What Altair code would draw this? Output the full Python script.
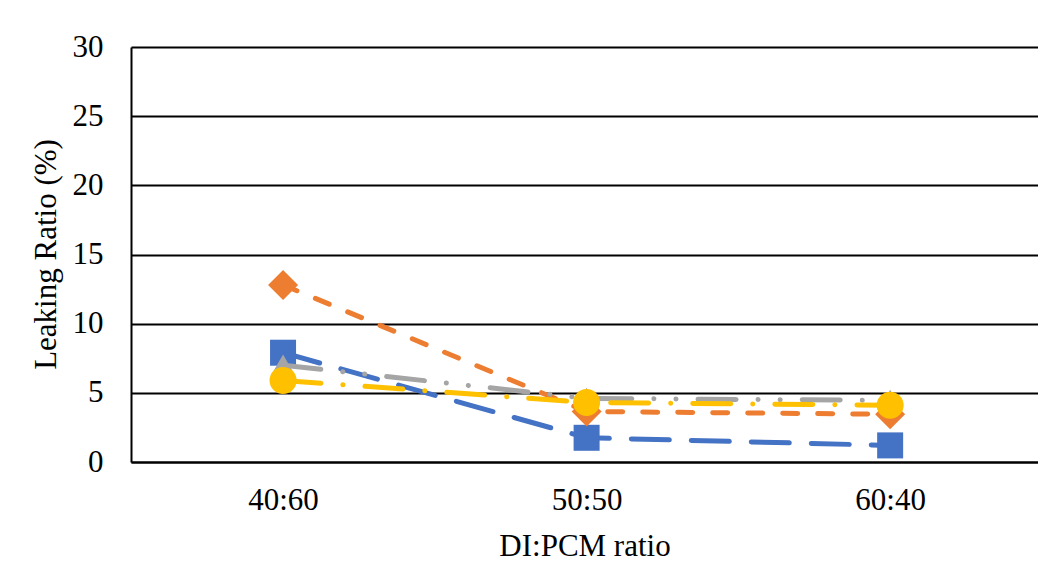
import altair as alt
import pandas as pd

categories = ["40:60", "50:50", "60:40"]
series_names = ["Series 1", "Series 2", "Series 3", "Series 4"]
series_1 = [7.9, 1.75, 1.2]
series_2 = [12.8, 3.65, 3.45]
series_3 = [7.0, 4.6, 4.45]
series_4 = [5.9, 4.3, 4.1]
all_values = [series_1, series_2, series_3, series_4]

colors = ["#4472C4", "#ED7D31", "#A5A5A5", "#FFC000"]
shapes = ["square", "diamond", "triangle-up", "circle"]
sizes = [676, 900, 600, 729]
dashes = [[38, 22], [15, 20], [38, 22, 0.1, 22, 0.1, 22], [38, 22, 0.1, 22]]

rows = []
for name, vals in zip(series_names, all_values):
    for c, v in zip(categories, vals):
        rows.append({"series": name, "ratio": c, "value": v})
df = pd.DataFrame(rows)

FONT = "Liberation Serif"
FS = 31

x_enc = alt.X(
    "ratio:N",
    sort=categories,
    scale=alt.Scale(domain=categories, padding=0.494, align=0.507),
    axis=alt.Axis(
        title="DI:PCM ratio",
        labelAngle=0,
        ticks=False,
        grid=False,
        domainColor="#000000",
        domainWidth=2,
        labelFont=FONT,
        labelFontSize=FS,
        labelColor="#000000",
        labelPadding=23,
        titleFont=FONT,
        titleFontSize=FS,
        titleFontWeight="normal",
        titleColor="#000000",
        titleBaseline="alphabetic",
        titleY=93,
    ),
)
y_enc = alt.Y(
    "value:Q",
    scale=alt.Scale(domain=[0, 30], nice=False, zero=True),
    axis=alt.Axis(
        title="Leaking Ratio (%)",
        values=[0, 5, 10, 15, 20, 25, 30],
        ticks=False,
        grid=True,
        gridColor="#000000",
        gridWidth=2,
        gridOpacity=1,
        domainColor="#000000",
        domainWidth=2,
        labelFont=FONT,
        labelFontSize=FS,
        labelColor="#000000",
        labelPadding=28,
        titleFont=FONT,
        titleFontSize=FS,
        titleFontWeight="normal",
        titleColor="#000000",
        titleAngle=-90,
        titleBaseline="alphabetic",
        titleX=-76,
        titleY=207,
    ),
)

layers = []
for i, name in enumerate(series_names):
    base = alt.Chart(df).transform_filter(alt.datum.series == name)
    line = base.mark_line(
        strokeWidth=5,
        strokeCap="round",
        strokeDash=dashes[i],
        color=colors[i],
    ).encode(x=x_enc, y=y_enc)
    pts = base.mark_point(
        shape=shapes[i],
        size=sizes[i],
        filled=True,
        opacity=1,
        color=colors[i],
    ).encode(x=x_enc, y=y_enc)
    layers.extend([line, pts])

chart = (
    alt.layer(*layers)
    .properties(
        width=907,
        height=415,
        autosize=alt.AutoSizeParams(type="none"),
        padding={"left": 131, "top": 47, "right": 0, "bottom": 99},
        background="#ffffff",
    )
    .configure_view(stroke=None)
)

chart.save("out.html", embed_options={"renderer": "svg", "actions": False})
